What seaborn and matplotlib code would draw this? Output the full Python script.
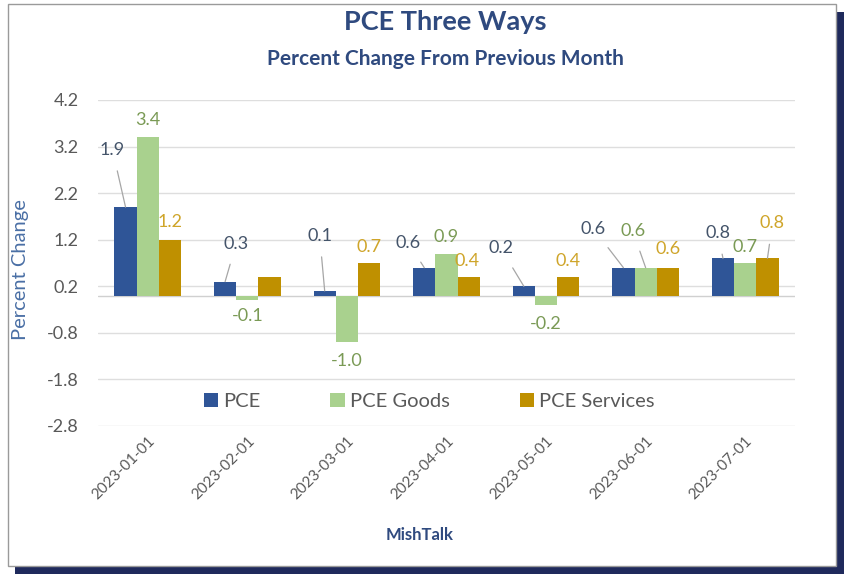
import matplotlib
matplotlib.use("Agg")
import matplotlib.pyplot as plt
import seaborn as sns
import pandas as pd
from matplotlib.patches import Rectangle

# ---- data ----
dates = ["2023-01-01", "2023-02-01", "2023-03-01", "2023-04-01",
         "2023-05-01", "2023-06-01", "2023-07-01"]
pce = [1.9, 0.3, 0.1, 0.6, 0.2, 0.6, 0.8]
pce_goods = [3.4, -0.1, -1.0, 0.9, -0.2, 0.6, 0.7]
pce_services = [1.2, 0.4, 0.7, 0.4, 0.4, 0.6, 0.8]
series_names = ["PCE", "PCE Goods", "PCE Services"]
y_ticks = [4.2, 3.2, 2.2, 1.2, 0.2, -0.8, -1.8, -2.8]

# ---- style ----
colors = ["#2F5597", "#A9D18E", "#BF9000"]
label_colors = ["#44546A", "#7A9A55", "#CFA52A"]
sns.set_theme(style="white")
plt.rcParams["font.family"] = ["Lato", "DejaVu Sans"]

df = pd.DataFrame({
    "date": dates * 3,
    "value": pce + pce_goods + pce_services,
    "series": [series_names[0]] * 7 + [series_names[1]] * 7 + [series_names[2]] * 7,
})

fig = plt.figure(figsize=(8.48, 5.76), dpi=100)
W, H = 848, 576

def px_rect(x0, y0, x1, y1, **kw):
    r = Rectangle((x0 / W, 1 - y1 / H), (x1 - x0) / W, (y1 - y0) / H,
                  transform=fig.transFigure, **kw)
    fig.add_artist(r)
    return r

# card + shadow
px_rect(15, 12, 844, 574, facecolor="#1F2A5C", edgecolor="none", zorder=-3)
px_rect(8, 4, 836, 566, facecolor="white", edgecolor="#9A9A9A", linewidth=1.0, zorder=-2)

ax = fig.add_axes([98 / W, 1 - 426 / H, (795 - 98) / W, (426 - 100) / H])
ax.patch.set_alpha(0)

sns.barplot(data=df, x="date", y="value", hue="series", hue_order=series_names,
            palette=colors, saturation=1, width=0.67, gap=0, ax=ax, legend=True,
            edgecolor="none", linewidth=0)

ax.set_ylim(-2.8, 4.2)
ax.set_yticks(y_ticks)
ax.set_yticklabels([f"{t:.1f}" for t in y_ticks])
ax.set_xlim(-0.5, len(dates) - 0.5)
ax.grid(axis="y", color="#DEDEDE", linewidth=1.0)
ax.set_axisbelow(True)
for s in ax.spines.values():
    s.set_visible(False)
ax.axhline(0, color="#D0D0D0", linewidth=1.0, zorder=0.5)

ax.tick_params(axis="y", labelsize=13, colors="#595959", length=0, pad=14)
ax.tick_params(axis="x", labelsize=11, colors="#595959", length=0, pad=6)
for lbl in ax.get_xticklabels():
    lbl.set_rotation(45)
    lbl.set_ha("right")
    lbl.set_rotation_mode("anchor")

ax.set_ylabel("Percent Change", fontsize=14.5, color="#4A6FA5")
ax.yaxis.set_label_coords((29 - 98) / 697, (426 - 270) / 326)
ax.set_xlabel("MishTalk", fontsize=12, color="#2F4A7F", fontweight="bold")
ax.xaxis.set_label_coords((420 - 98) / 697, (426 - 527) / 326)

fig.text(445 / W, 1 - 22 / H, "PCE Three Ways", ha="center", va="center",
         fontsize=19.5, color="#2F4A7F", fontweight="bold")
fig.text(445 / W, 1 - 59 / H, "Percent Change From Previous Month", ha="center", va="center",
         fontsize=15, color="#2F4A7F", fontweight="bold")

# legend
leg = ax.legend(loc="center", bbox_to_anchor=(0.475, 0.074), ncol=3, frameon=False,
                fontsize=14.5, handlelength=0.7, handleheight=0.7, handletextpad=0.25,
                columnspacing=3.5)
for t in leg.get_texts():
    t.set_color("#595959")

# label offsets in pixels (dx, dy) and whether to draw a leader line
offsets = {
    (0, 0): (-13, 57, True), (0, 1): (0, 17, False), (0, 2): (0, 18, False),
    (1, 0): (11, 38, True), (1, 1): (0, -16, False), (1, 2): None,
    (2, 0): (-5, 55, True), (2, 1): (0, -19, False), (2, 2): (0, 16, False),
    (3, 0): (-16, 25, True), (3, 1): (0, 17, False), (3, 2): (-2, 16, False),
    (4, 0): (-23, 38, True), (4, 1): (0, -19, False), (4, 2): (0, 16, False),
    (5, 0): (-30, 39, True), (5, 1): (-13, 37, True), (5, 2): (0, 19, False),
    (6, 0): (-5, 25, True), (6, 1): (0, 16, False), (6, 2): (5, 35, True),
}
all_vals = [pce, pce_goods, pce_services]
for si, cont in enumerate(ax.containers):
    for ci, bar in enumerate(cont):
        o = offsets.get((ci, si))
        if o is None:
            continue
        dx, dy, line = o
        v = all_vals[si][ci]
        xc = bar.get_x() + bar.get_width() / 2
        kw = {}
        if line:
            kw["arrowprops"] = dict(arrowstyle="-", color="#A6A6A6", lw=0.9,
                                    shrinkA=7, shrinkB=0)
        ax.annotate(f"{v:.1f}", xy=(xc, v), xytext=(dx, dy), textcoords="offset pixels",
                    ha="center", va="center", fontsize=13, color=label_colors[si], **kw)

fig.savefig("out.png", dpi=100, facecolor="white")
